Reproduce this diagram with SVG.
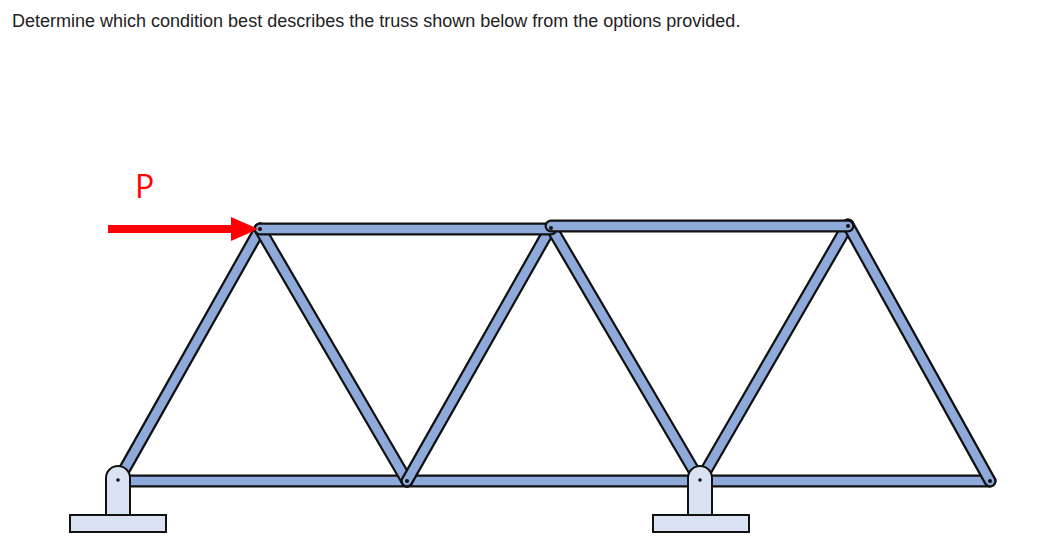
<svg xmlns="http://www.w3.org/2000/svg" width="1039" height="556" viewBox="0 0 1039 556">
<style>
.o{stroke:#111;stroke-width:13;stroke-linecap:round}
.i{stroke:#8eaadb;stroke-width:8.5;stroke-linecap:round}
.s{fill:#dae3f3;stroke:#111;stroke-width:2}
</style>
<rect width="1039" height="556" fill="#fff"/>
<text x="12" y="27" font-family="Liberation Sans, Arial, sans-serif" font-size="18" fill="#222">Determine which condition best describes the truss shown below from the options provided.</text>
<g id="members">
<g id="bottom"><line class="o" x1="118" y1="481" x2="407" y2="481"/><line class="i" x1="118" y1="481" x2="407" y2="481"/></g>
<g id="b2"><line class="o" x1="407" y1="481" x2="700" y2="481"/><line class="i" x1="407" y1="481" x2="700" y2="481"/></g>
<g id="b3"><line class="o" x1="700" y1="481" x2="990" y2="481"/><line class="i" x1="700" y1="481" x2="990" y2="481"/></g>
<g id="d1"><line class="o" x1="118" y1="481" x2="260" y2="229"/><line class="i" x1="118" y1="481" x2="260" y2="229"/></g>
<g id="d2"><line class="o" x1="260" y1="229" x2="407" y2="481"/><line class="i" x1="260" y1="229" x2="407" y2="481"/></g>
<g id="d3"><line class="o" x1="407" y1="481" x2="551" y2="227"/><line class="i" x1="407" y1="481" x2="551" y2="227"/></g>
<g id="d4"><line class="o" x1="551" y1="227" x2="700" y2="481"/><line class="i" x1="551" y1="227" x2="700" y2="481"/></g>
<g id="d5"><line class="o" x1="700" y1="481" x2="848" y2="225"/><line class="i" x1="700" y1="481" x2="848" y2="225"/></g>
<g id="d6"><line class="o" x1="848" y1="225" x2="990" y2="481"/><line class="i" x1="848" y1="225" x2="990" y2="481"/></g>
<g id="t1"><line class="o" x1="260" y1="229" x2="551" y2="229"/><line class="i" x1="260" y1="229" x2="551" y2="229"/></g>
<g id="t2"><line class="o" x1="551" y1="226" x2="848" y2="226"/><line class="i" x1="551" y1="226" x2="848" y2="226"/></g>
</g>
<g id="pins" fill="#111">
<circle cx="260" cy="229" r="2"/><circle cx="551" cy="228" r="2"/><circle cx="848" cy="226" r="2"/>
<circle cx="407" cy="481" r="2"/><circle cx="990" cy="481" r="2"/>
</g>
<g id="supportA">
<path class="s" d="M106,515 V478 a12,12 0 0 1 24,0 V515 Z"/>
<rect class="s" x="70" y="515" width="96" height="17"/>
<circle cx="118" cy="480" r="1.8" fill="#111"/>
</g>
<g id="supportB">
<path class="s" d="M688,515 V478 a12,12 0 0 1 24,0 V515 Z"/>
<rect class="s" x="653" y="515" width="96" height="17"/>
<circle cx="700" cy="480" r="1.8" fill="#111"/>
</g>
<g id="load">
<line x1="108" y1="229" x2="234" y2="229" stroke="#f00" stroke-width="8"/>
<polygon points="231,217 258,229 231,241" fill="#f00"/>
<text x="135" y="198" font-family="Open Sans, Liberation Sans, sans-serif" font-size="32" fill="#f00">P</text>
</g>
</svg>
